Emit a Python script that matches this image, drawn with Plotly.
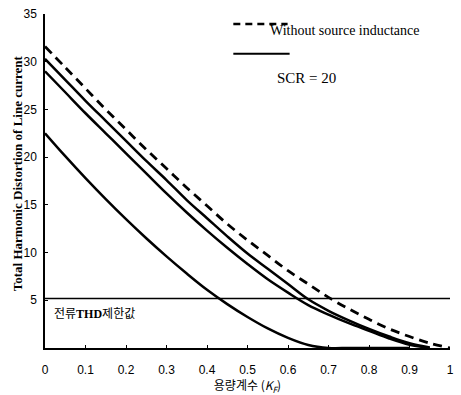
import plotly.graph_objects as go

# Data
kf = [0.0, 0.05, 0.1, 0.15, 0.2, 0.25, 0.3, 0.35, 0.4, 0.45, 0.5,
      0.55, 0.6, 0.65, 0.7, 0.75, 0.8, 0.85, 0.9, 0.95, 1.0]

thd_no_inductance = [31.6, 29.4, 27.2, 25.0, 22.9, 20.8, 18.8, 16.8, 14.9, 13.0, 11.3,
                     9.7, 8.1, 6.7, 5.3, 4.1, 3.0, 2.0, 1.2, 0.5, 0.0]
thd_scr_a = [30.3, 28.1, 25.9, 23.8, 21.7, 19.6, 17.6, 15.5, 13.6, 11.7, 9.9,
             8.3, 6.7, 5.1, 3.9, 2.9, 2.0, 1.2, 0.5, 0.05, None]
thd_scr_b = [29.0, 26.8, 24.6, 22.5, 20.4, 18.3, 16.2, 14.2, 12.3, 10.5, 8.8,
             7.2, 5.8, 4.5, 3.5, 2.6, 1.8, 1.0, 0.35, 0.0, None]
thd_scr_c = [22.5, 20.1, 17.8, 15.6, 13.5, 11.5, 9.6, 7.8, 6.1, 4.6, 3.25,
             2.05, 1.06, 0.31, 0.0, 0.0, 0.0, 0.0, 0.0, None, None]

thd_limit = 5.2
x_ticks = [0, 0.1, 0.2, 0.3, 0.4, 0.5, 0.6, 0.7, 0.8, 0.9, 1]
x_tick_text = ["0", "0.1", "0.2", "0.3", "0.4", "0.5", "0.6", "0.7", "0.8", "0.9", "1"]
y_ticks = [5, 10, 15, 20, 25, 30, 35]

fig = go.Figure()

fig.add_trace(go.Scatter(x=[0, 1], y=[thd_limit, thd_limit], mode="lines",
                         line=dict(color="black", width=1.5), showlegend=False))
fig.add_trace(go.Scatter(x=kf, y=thd_no_inductance, mode="lines",
                         line=dict(color="black", width=2.8, dash="9px,6px", shape="spline"),
                         showlegend=False))
for ys in (thd_scr_a, thd_scr_b, thd_scr_c):
    fig.add_trace(go.Scatter(x=kf, y=ys, mode="lines",
                             line=dict(color="black", width=2.5, shape="spline"),
                             showlegend=False))

# Legend (drawn as shapes/annotations to mimic the original layout)
fig.add_shape(type="line", xref="paper", yref="paper", x0=0.465, x1=0.599, y0=0.970, y1=0.970,
              line=dict(color="black", width=2.5, dash="7px,5px"))
fig.add_shape(type="line", xref="paper", yref="paper", x0=0.465, x1=0.604, y0=0.881, y1=0.881,
              line=dict(color="black", width=2))
fig.add_annotation(xref="paper", yref="paper", x=0.55, y=0.950, xanchor="left", yanchor="middle",
                   text="Without source inductance", showarrow=False,
                   font=dict(family="Liberation Serif", size=14, color="black"))
fig.add_annotation(xref="paper", yref="paper", x=0.568, y=0.807, xanchor="left", yanchor="middle",
                   text="SCR = 20", showarrow=False,
                   font=dict(family="Liberation Serif", size=15, color="black"))
fig.add_annotation(x=0.017, y=thd_limit, xref="x", yref="y", xanchor="left", yanchor="top",
                   yshift=-4, showarrow=False,
                   text="<span style='font-family:Noto Sans CJK KR'>전류</span><b>THD</b><span style='font-family:Noto Sans CJK KR'>제한값</span>",
                   font=dict(family="Liberation Serif", size=12, color="black"))
# Y-axis title
fig.add_annotation(xref="paper", yref="paper", x=-0.066, y=0.524, xanchor="center", yanchor="middle",
                   textangle=-90, showarrow=False,
                   text="<b>Total Harmonic Distortion of Line current</b>",
                   font=dict(family="Liberation Serif", size=13, color="black"))

fig.update_layout(
    width=461, height=395,
    margin=dict(l=45, r=7, t=12, b=47),
    paper_bgcolor="white", plot_bgcolor="white",
    font=dict(family="Liberation Sans", size=11, color="black"),
    xaxis=dict(range=[0, 1], tickvals=x_ticks, ticktext=x_tick_text,
               showgrid=False, zeroline=False, showline=True, linecolor="black", linewidth=1.5,
               ticks="inside", ticklen=3, tickcolor="black", ticklabelstandoff=10,
               tickfont=dict(size=12),
               title=dict(text="용량계수 (<i>K<sub>F</sub></i>)", standoff=2,
                          font=dict(family="Noto Sans CJK KR", size=12))),
    yaxis=dict(range=[0, 35], tickvals=y_ticks,
               showgrid=False, zeroline=False, showline=True, linecolor="black", linewidth=1.5,
               ticks="inside", ticklen=3, tickcolor="black", ticklabelstandoff=4,
               tickfont=dict(size=12)),
)

fig.write_html("out.html")
